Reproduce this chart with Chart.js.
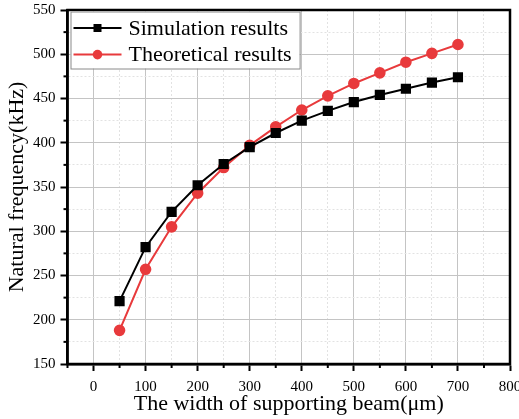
<!DOCTYPE html>
<html>
<head>
<meta charset="utf-8">
<script src="https://cdn.jsdelivr.net/npm/chart.js@4/dist/chart.umd.min.js"></script>
<style>
  html, body { margin: 0; padding: 0; background: #fff; }
  canvas { display: block; }
</style>
</head>
<body>
<canvas id="freqChart" width="519" height="419"></canvas>
<script>
// beam width (um)
const widths = [50, 100, 150, 200, 250, 300, 350, 400, 450, 500, 550, 600, 650, 700]
// natural frequency (kHz)
const simulation = [221, 282, 322, 352, 376, 395, 411, 425, 436, 446, 454, 461, 468, 474]
const theoretical = [188, 257, 305, 343, 372, 397, 418, 437, 453, 467, 479, 491, 501, 511]

const seriesNames = ["Simulation results", "Theoretical results"]
const xTicksMajor = 100
const yTicksMajor = 50

const RED = "rgb(232,58,60)"
const FONT = "'Liberation Serif', 'Times New Roman', serif"

const toPoints = (ys) => ys.map((y, i) => ({ x: widths[i], y: y }))

const isMajor = (scale, v) => {
  const step = scale.axis === "x" ? xTicksMajor : yTicksMajor
  return Math.abs(v % step) < 1e-6
}

const framePlugin = {
  id: "frame",
  afterDraw(chart) {
    const { ctx, chartArea: a } = chart
    const xs = chart.scales.x
    const ys = chart.scales.y
    ctx.save()
    ctx.strokeStyle = "#000"
    ctx.lineWidth = 2
    // short minor ticks
    xs.ticks.forEach((t) => {
      if (isMajor(xs, t.value)) return
      const px = xs.getPixelForValue(t.value)
      ctx.beginPath()
      ctx.moveTo(px, a.bottom)
      ctx.lineTo(px, a.bottom + 4)
      ctx.stroke()
    })
    ys.ticks.forEach((t) => {
      if (isMajor(ys, t.value)) return
      const py = ys.getPixelForValue(t.value)
      ctx.beginPath()
      ctx.moveTo(a.left - 4, py)
      ctx.lineTo(a.left, py)
      ctx.stroke()
    })
    ctx.lineWidth = 2.5
    ctx.strokeRect(a.left, a.top, a.right - a.left, a.bottom - a.top)

    // legend box in the upper left corner
    ctx.font = "22px " + FONT
    const textW = Math.max(...seriesNames.map((s) => ctx.measureText(s).width))
    const bx = a.left + 3
    const by = a.top + 1.5
    const bw = 58 + textW + 8
    const bh = 57
    ctx.fillStyle = "#fff"
    ctx.fillRect(bx, by, bw, bh)
    ctx.strokeStyle = "#8a8a8a"
    ctx.lineWidth = 1
    ctx.strokeRect(bx + 0.5, by + 0.5, bw, bh)
    chart.data.datasets.forEach((ds, i) => {
      const cy = by + 16.5 + i * 26.6
      ctx.strokeStyle = ds.borderColor
      ctx.fillStyle = ds.borderColor
      ctx.lineWidth = 2
      ctx.beginPath()
      ctx.moveTo(bx + 3, cy)
      ctx.lineTo(bx + 51, cy)
      ctx.stroke()
      if (ds.pointStyle === "rect") {
        ctx.fillRect(bx + 23, cy - 4, 8, 8)
      } else {
        ctx.beginPath()
        ctx.arc(bx + 27, cy, 4.8, 0, Math.PI * 2)
        ctx.fill()
      }
      ctx.fillStyle = "#000"
      ctx.textBaseline = "middle"
      ctx.textAlign = "left"
      ctx.fillText(ds.label, bx + 58, cy + 1)
    })
    ctx.restore()
  },
}

const gridOpts = {
  color: (c) => (c.tick && isMajor(c.scale, c.tick.value) ? "#c4c4c4" : "#e2e2e2"),
  lineWidth: 1,
  tickLength: 7,
  tickWidth: 2,
  tickColor: (c) => (c.tick && isMajor(c.scale, c.tick.value) ? "#000" : "rgba(0,0,0,0)"),
}
const borderOpts = {
  color: "#000",
  width: 2.5,
  dash: (c) => (c.tick && !isMajor(c.scale, c.tick.value) ? [2, 2] : []),
}

new Chart(document.getElementById("freqChart"), {
  type: "line",
  data: {
    datasets: [
      {
        label: seriesNames[0],
        data: toPoints(simulation),
        borderColor: "#000",
        backgroundColor: "#000",
        borderWidth: 2,
        pointStyle: "rect",
        pointRadius: 5.8,
        pointHoverRadius: 5.8,
        tension: 0,
      },
      {
        label: seriesNames[1],
        data: toPoints(theoretical),
        borderColor: RED,
        backgroundColor: RED,
        borderWidth: 2,
        pointStyle: "circle",
        pointRadius: 4.8,
        pointHoverRadius: 4.8,
        tension: 0,
      },
    ],
  },
  options: {
    responsive: false,
    animation: false,
    devicePixelRatio: 1,
    layout: { autoPadding: false, padding: 0 },
    scales: {
      x: {
        type: "linear",
        min: -50,
        max: 800,
        grid: gridOpts,
        border: borderOpts,
        afterFit: (scale) => {
          // let the "800" label run off the edge like the original
          scale.paddingRight = 9
        },
        ticks: {
          stepSize: 50,
          autoSkip: false,
          maxRotation: 0,
          padding: 7,
          color: "#000",
          font: { family: FONT, size: 15 },
          callback: (v) => (v % xTicksMajor === 0 ? v : ""),
        },
        title: {
          display: true,
          text: "The width of supporting beam(μm)",
          color: "#000",
          font: { family: FONT, size: 22, lineHeight: 1 },
          padding: { top: -10, bottom: 4 },
        },
      },
      y: {
        min: 150,
        max: 550,
        grid: gridOpts,
        border: borderOpts,
        afterFit: (scale) => {
          scale.paddingTop = 10
        },
        ticks: {
          stepSize: 25,
          autoSkip: false,
          padding: 5,
          color: "#000",
          font: { family: FONT, size: 15 },
          callback: (v) => (v % yTicksMajor === 0 ? v : ""),
        },
        title: {
          display: true,
          text: "Natural frequency(kHz)",
          color: "#000",
          font: { family: FONT, size: 22, lineHeight: 1 },
          padding: { top: 6, bottom: 0 },
        },
      },
    },
    plugins: {
      tooltip: { enabled: false },
      legend: { display: false },
    },
  },
  plugins: [framePlugin],
})
</script>
</body>
</html>
